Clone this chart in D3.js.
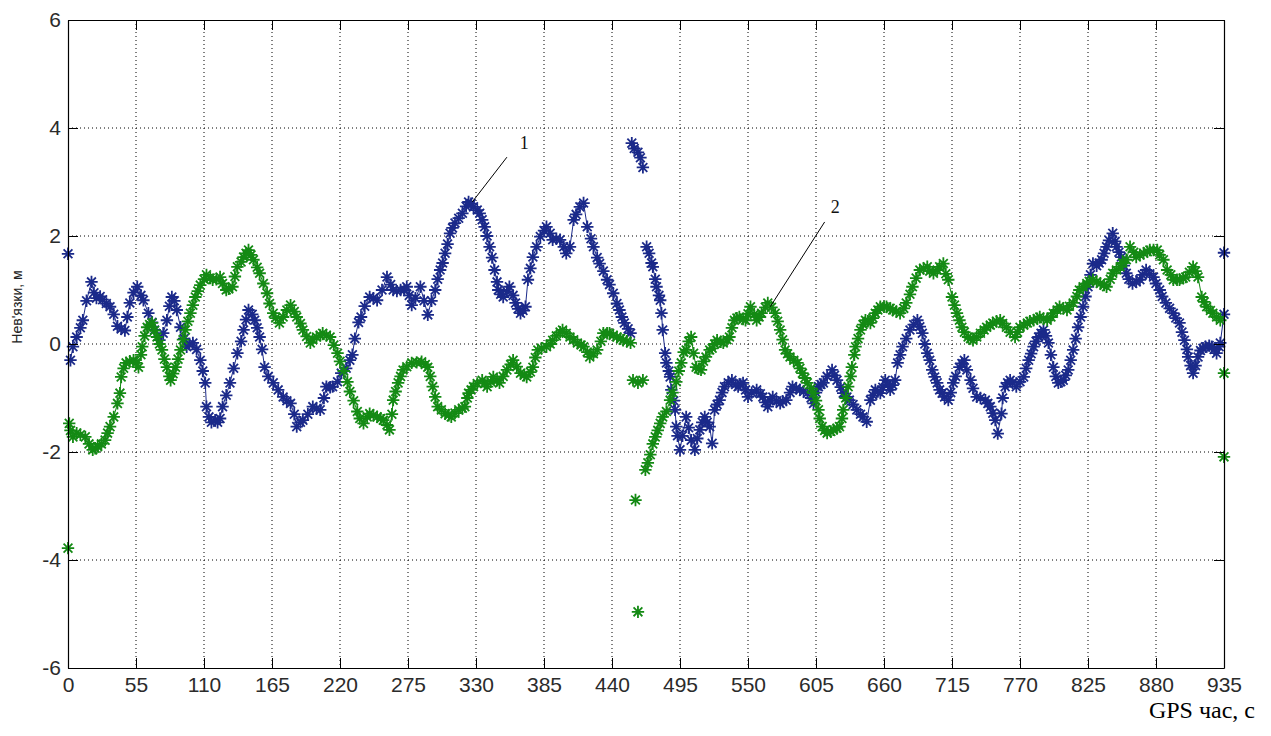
<!DOCTYPE html>
<html>
<head>
<meta charset="utf-8">
<script src="https://cdn.jsdelivr.net/npm/d3@7"></script>
<style>
  body { margin: 0; background: #fff; }
  svg { display: block; }
  .tick text { font-family: "Liberation Sans", Arial, sans-serif; font-size: 21px; fill: #2b2b2b; }
</style>
</head>
<body>
<script>
// x ticks, y ticks
const xTicks = [0, 55, 110, 165, 220, 275, 330, 385, 440, 495, 550, 605, 660, 715, 770, 825, 880, 935];
const yTicks = [-6, -4, -2, 0, 2, 4, 6];

// series 1 (blue) — time, s
const t1 = [0, null,
  2, 4, 7, 10, 12, 15, 19, 21, 23, 26, 28, 31, 34, 37, 40, 43, 46, 48, 50, 53, 56, 59, 61, 65, 68, 70, 74, 77, 80, 82, 84, 86, 88, 91, 94, 96, 98,
  101, 104, 107, 109, 111, 112, 114, 116, 119, 121, 123, 125, 128, 131, 134, 137, 140, 142, 144, 146, 149, 151, 153, 155, 157, 159, 162, 166, 170, 174, 177, 180, 183, 185, 188, 190, 194, 198,
  201, 204, 207, 209, 212, 214, 218, 221, 225, 228, 230, 232, 235, 237, 240, 244, 247, 250, 254, 258, 261, 263, 266, 269, 272, 274, 276, 278, 281, 285, 288, 291, 294, 297, 299,
  301, 303, 305, 307, 309, 311, 313, 316, 319, 322, 324, 326, 328, 331, 333, 335, 337, 339, 341, 343, 345, 347, 348, 350, 352, 355, 357, 360, 362, 364, 366, 368, 370, 372, 374, 376, 379, 382, 385, 387, 390, 392, 395, 398,
  401, 403, 406, 409, 411, 414, 417, 420, 423, 425, 428, 430, 433, 436, 438, 441, 444, 446, 448, 450, 453, 455, null,
  456, 458, 461, 463, 465, null,
  468, 470, 472, 473, 475, 476, 478, 479, 480, 481, 483, 484, 486, 487, 488, 490, 491, 492, 493, 495, 497, 500, 502, 504, 507, 509, 511, 513, 515, 517, 519, 521, 523, 525, 527, 529, 531, 534, 537, 540, 542, 544, 546, 548, 550, 553, 557, 560, 562, 564, 566, 568, 570, 573, 576, 578, 581, 584, 586, 589, 592, 595, 598,
  601, 603, 605, 607, 609, 611, 614, 618, 620, 622, 625, 627, 630, 632, 635, 638, 641, 643, 646, 649, 651, 653, 655, 657, 659, 661, 663, 665, 667, 669, 671, 673, 675, 678, 681, 684, 687, 689, 691, 693, 695, 697, 699,
  701, 703, 705, 707, 709, 712, 714, 716, 718, 721, 723, 725, 727, 730, 732, 735, 738, 742, 744, 746, 748, 750, 752, 755, 756, 758, 760, 762, 764, 767, 770, 773, 775, 777, 779, 781, 783, 785, 787, 789, 791, 793, 795, 797, 799,
  801, 803, 805, 807, 809, 811, 813, 815, 817, 819, 821, 823, 825, 827, 829, 832, 834, 836, 838, 840, 842, 845, 847, 848, 850, 852, 854, 856, 858, 861, 864, 867, 869, 872, 875, 878, 880, 883, 885, 888, 891, 894, 896, 899,
  901, 903, 905, 906, 908, 910, 912, 914, 916, 918, 920, 923, 925, 927, 929, 931, 932, 935, null,
  935];
// series 1 (blue) — misclosure, m
const v1 = [1.67, null,
  -0.3, -0.05, 0.13, 0.3, 0.44, 0.8, 1.15, 0.95, 0.85, 0.88, 0.82, 0.75, 0.69, 0.55, 0.33, 0.28, 0.25, 0.5, 0.76, 0.95, 1.06, 0.9, 0.81, 0.57, 0.4, 0.26, 0.07, 0.2, 0.44, 0.7, 0.87, 0.8, 0.63, 0.31, 0.1, -0.05, 0.0,
  0.02, -0.1, -0.3, -0.5, -0.72, -1.16, -1.35, -1.45, -1.41, -1.45, -1.38, -1.16, -0.95, -0.72, -0.45, -0.17, 0.05, 0.26, 0.45, 0.63, 0.55, 0.44, 0.3, 0.13, -0.1, -0.43, -0.6, -0.72, -0.85, -0.98, -1.05, -1.1, -1.3, -1.53, -1.45, -1.41, -1.3, -1.16,
  -1.2, -1.22, -1.0, -0.79, -0.8, -0.79, -0.7, -0.54, -0.45, -0.3, -0.2, 0.1, 0.4, 0.5, 0.7, 0.87, 0.85, 0.81, 1.0, 1.24, 1.1, 1.0, 0.98, 1.0, 1.0, 1.06, 0.9, 0.72, 0.85, 1.06, 0.8, 0.54, 0.8, 1.0, 1.2,
  1.37, 1.5, 1.68, 1.85, 2.05, 2.15, 2.24, 2.33, 2.42, 2.55, 2.63, 2.6, 2.54, 2.48, 2.42, 2.3, 2.17, 2.0, 1.8, 1.6, 1.37, 1.15, 1.0, 0.92, 0.87, 0.97, 1.06, 0.9, 0.76, 0.65, 0.57, 0.62, 0.69, 1.19, 1.4, 1.61, 1.8, 1.99, 2.1, 2.17, 2.05, 1.93, 1.95, 1.93,
  1.8, 1.68, 1.8, 2.3, 2.4, 2.54, 2.61, 2.17, 1.95, 1.8, 1.6, 1.49, 1.35, 1.19, 1.1, 0.94, 0.75, 0.63, 0.5, 0.39, 0.28, 0.2, null,
  3.72, 3.62, 3.55, 3.45, 3.27, null,
  1.8, 1.68, 1.5, 1.43, 1.2, 1.06, 0.9, 0.81, 0.57, 0.26, -0.17, -0.35, -0.5, -0.61, -0.85, -1.05, -1.22, -1.53, -1.7, -1.96, -1.7, -1.35, -1.55, -1.78, -1.96, -1.75, -1.59, -1.45, -1.35, -1.45, -1.53, -1.84, -1.22, -1.12, -1.04, -0.9, -0.79, -0.72, -0.67, -0.75, -0.79, -0.75, -0.72, -0.85, -0.98, -0.9, -0.85, -0.92, -0.98, -1.08, -1.16, -1.05, -0.98, -1.05, -1.1, -1.06, -1.04, -0.9, -0.79, -0.82, -0.85, -0.88, -0.91,
  -1.0, -1.1, -0.9, -0.79, -0.75, -0.72, -0.6, -0.48, -0.58, -0.67, -0.8, -0.91, -0.98, -1.04, -1.12, -1.22, -1.3, -1.35, -1.44, -1.04, -0.95, -0.85, -0.88, -0.91, -0.8, -0.67, -0.75, -0.85, -0.76, -0.67, -0.35, -0.2, -0.05, 0.1, 0.26, 0.36, 0.44, 0.32, 0.2, 0.0, -0.17, -0.3, -0.48,
  -0.61, -0.72, -0.85, -0.91, -0.98, -1.04, -0.9, -0.72, -0.6, -0.43, -0.36, -0.3, -0.48, -0.67, -0.82, -0.98, -1.0, -1.04, -1.1, -1.16, -1.28, -1.41, -1.66, -1.29, -1.0, -0.79, -0.72, -0.67, -0.72, -0.79, -0.7, -0.61, -0.45, -0.3, -0.18, -0.05, 0.05, 0.13, 0.2, 0.26, 0.15, 0.02, -0.2, -0.43, -0.6,
  -0.72, -0.7, -0.67, -0.58, -0.48, -0.3, -0.11, 0.1, 0.31, 0.5, 0.69, 0.88, 1.06, 1.28, 1.49, 1.45, 1.5, 1.56, 1.68, 1.8, 1.92, 2.05, 1.9, 1.8, 1.7, 1.61, 1.45, 1.31, 1.2, 1.12, 1.15, 1.19, 1.28, 1.37, 1.3, 1.24, 1.12, 1.0, 0.88, 0.76, 0.66, 0.57, 0.48, 0.39,
  0.22, 0.07, -0.1, -0.24, -0.4, -0.54, -0.4, -0.24, -0.12, -0.08, -0.05, -0.03, -0.05, -0.1, -0.17, -0.05, 0.02, 0.55, null,
  1.69];

// series 2 (green) — time, s
const t2 = [0, null,
  1, 2, 4, 7, 10, 14, 17, 20, 22, 24, 27, 30, 32, 34, 37, 40, 42, 43, 45, 47, 50, 53, 55, 57, 59, 60, 62, 64, 66, 68, 70, 72, 74, 76, 78, 80, 82, 83, 85, 87, 89, 91, 93, 95, 97, 99,
  101, 103, 105, 107, 110, 112, 115, 117, 120, 123, 125, 128, 130, 133, 135, 137, 140, 142, 144, 146, 148, 150, 153, 155, 158, 161, 163, 166, 168, 171, 174, 177, 180, 183, 185, 188, 190, 193, 196, 198,
  201, 204, 206, 209, 212, 215, 218, 220, 223, 226, 228, 231, 234, 236, 239, 242, 244, 247, 250, 253, 255, 258, 260, 262, 263, 265, 267, 269, 271, 274, 278, 282, 286, 289, 291, 293, 295, 297, 299,
  302, 305, 308, 310, 313, 316, 319, 321, 323, 324, 326, 328, 331, 335, 337, 339, 342, 344, 347, 349, 352, 355, 358, 360, 363, 366, 369, 371, 374, 376, 378, 380, 383, 387, 390, 392, 395, 398,
  400, 403, 406, 409, 412, 415, 417, 420, 422, 425, 428, 431, 433, 436, 438, 441, 444, 447, 449, 452, 455, null,
  457, 461, 465, null,
  459, null,
  461, null,
  467, 469, 471, 473, 475, 477, 479, 481, 484, 487, 489, 492, 494, 496, 498, 500, 502, 504, 506, 508, 510, 512, 514, 516, 519, 521, 523, 525, 528, 530, 533, 535, 537, 539, 541, 543, 546, 548, 550, 552, 555, 557, 559, 561, 564, 566, 569, 572, 574, 576, 578, 580, 582, 584, 587, 590, 592, 594, 596, 598,
  601, 603, 605, 607, 608, 610, 612, 614, 617, 619, 622, 624, 626, 627, 629, 631, 633, 634, 636, 637, 639, 641, 643, 645, 647, 649, 651, 653, 655, 657, 660, 662, 665, 667, 670, 673, 676, 678, 681, 683, 686, 689, 692, 695, 697,
  700, 703, 705, 708, 710, 712, 715, 717, 719, 721, 723, 725, 728, 730, 732, 735, 738, 741, 743, 746, 748, 751, 754, 756, 759, 762, 766, 768, 770, 773, 776, 778, 781, 784, 786, 789, 792, 795, 797,
  800, 802, 805, 808, 810, 813, 816, 818, 821, 824, 826, 829, 832, 835, 838, 840, 843, 845, 848, 851, 853, 856, 859, 862, 864, 867, 870, 873, 875, 878, 881, 883, 886, 889, 892, 894, 897, 899,
  902, 904, 907, 910, 912, 914, 917, 919, 921, 924, 926, 929, 932, null,
  935, null,
  935];
// series 2 (green) — misclosure, m
const v2 = [-3.78, null,
  -1.47, -1.6, -1.72, -1.65, -1.68, -1.72, -1.85, -1.96, -1.93, -1.9, -1.85, -1.78, -1.65, -1.53, -1.35, -1.1, -0.91, -0.61, -0.45, -0.35, -0.32, -0.3, -0.35, -0.43, -0.2, -0.05, 0.15, 0.31, 0.36, 0.39, 0.25, 0.13, 0.0, -0.11, -0.28, -0.43, -0.6, -0.67, -0.55, -0.43, -0.28, -0.11, 0.08, 0.26, 0.42, 0.57,
  0.72, 0.87, 0.98, 1.09, 1.2, 1.28, 1.22, 1.19, 1.2, 1.24, 1.12, 1.0, 1.02, 1.06, 1.25, 1.43, 1.52, 1.61, 1.68, 1.74, 1.65, 1.56, 1.42, 1.31, 1.12, 0.94, 0.75, 0.57, 0.48, 0.39, 0.5, 0.63, 0.72, 0.6, 0.5, 0.38, 0.26, 0.14, 0.02, 0.08,
  0.13, 0.16, 0.2, 0.16, 0.13, -0.02, -0.17, -0.32, -0.5, -0.7, -0.88, -1.05, -1.25, -1.38, -1.47, -1.35, -1.29, -1.32, -1.35, -1.38, -1.41, -1.5, -1.59, -1.3, -1.04, -0.88, -0.72, -0.6, -0.48, -0.42, -0.35, -0.34, -0.33, -0.38, -0.43, -0.6, -0.79, -0.98, -1.16,
  -1.22, -1.29, -1.32, -1.35, -1.28, -1.22, -1.19, -1.16, -1.0, -0.91, -0.85, -0.79, -0.73, -0.67, -0.73, -0.79, -0.7, -0.61, -0.67, -0.72, -0.6, -0.48, -0.38, -0.3, -0.42, -0.54, -0.58, -0.61, -0.52, -0.43, -0.25, -0.11, -0.08, -0.05, 0.0, 0.07, 0.15, 0.22,
  0.26, 0.2, 0.13, 0.08, 0.02, -0.02, -0.05, -0.15, -0.24, -0.18, -0.11, 0.05, 0.2, 0.2, 0.2, 0.16, 0.13, 0.1, 0.07, 0.05, 0.02, null,
  -0.67, -0.72, -0.67, null,
  -2.89, null,
  -4.96, null,
  -2.33, -2.2, -2.05, -1.85, -1.72, -1.6, -1.47, -1.35, -1.25, -1.04, -0.9, -0.7, -0.5, -0.35, -0.15, -0.11, 0.05, 0.13, -0.17, -0.43, -0.46, -0.48, -0.32, -0.24, -0.11, -0.08, 0.0, 0.07, 0.04, 0.02, 0.08, 0.13, 0.3, 0.44, 0.48, 0.5, 0.46, 0.44, 0.56, 0.69, 0.55, 0.44, 0.5, 0.57, 0.68, 0.76, 0.68, 0.57, 0.42, 0.26, 0.08, -0.11, -0.18, -0.24, -0.3, -0.35, -0.45, -0.54, -0.63, -0.72,
  -0.82, -0.91, -1.05, -1.22, -1.38, -1.53, -1.6, -1.65, -1.62, -1.59, -1.56, -1.53, -1.38, -1.22, -1.0, -0.79, -0.6, -0.43, -0.2, -0.05, 0.1, 0.26, 0.36, 0.44, 0.42, 0.39, 0.48, 0.57, 0.63, 0.69, 0.69, 0.69, 0.66, 0.63, 0.6, 0.57, 0.66, 0.76, 0.92, 1.06, 1.22, 1.37, 1.4, 1.43, 1.35,
  1.31, 1.37, 1.43, 1.49, 1.3, 1.19, 0.87, 0.72, 0.57, 0.44, 0.31, 0.22, 0.13, 0.1, 0.07, 0.13, 0.2, 0.26, 0.31, 0.35, 0.39, 0.42, 0.44, 0.38, 0.31, 0.22, 0.13, 0.22, 0.31, 0.35, 0.39, 0.42, 0.44, 0.47, 0.5, 0.47, 0.44, 0.5, 0.57,
  0.63, 0.69, 0.66, 0.63, 0.7, 0.76, 0.88, 1.0, 1.06, 1.12, 1.16, 1.19, 1.15, 1.12, 1.09, 1.06, 1.2, 1.31, 1.37, 1.43, 1.5, 1.56, 1.8, 1.7, 1.61, 1.65, 1.68, 1.71, 1.74, 1.74, 1.74, 1.65, 1.56, 1.37, 1.28, 1.19, 1.19, 1.19,
  1.22, 1.24, 1.33, 1.43, 1.35, 1.24, 0.87, 0.78, 0.69, 0.62, 0.57, 0.5, 0.44, null,
  -0.54, null,
  -2.09];

const seriesColors = ["#1b2a8a", "#148a14"];

// curve labels "1" and "2": [label, line start t, v, line end t, v, text t, v]
const callouts = [
  ["1", 327, 2.63, 355, 3.46, 369, 3.61],
  ["2", 568, 0.69, 612, 2.26, 620.5, 2.43]
];

const width = 1271, height = 736;
const margin = {top: 20, right: 47, bottom: 68, left: 68};
const innerW = width - margin.left - margin.right;
const innerH = height - margin.top - margin.bottom;

const svg = d3.select("body").append("svg")
  .attr("width", width)
  .attr("height", height);

const g = svg.append("g")
  .attr("transform", `translate(${margin.left},${margin.top})`);

const x = d3.scaleLinear().domain([0, 935]).range([0, innerW]);
const y = d3.scaleLinear().domain([-6, 6]).range([innerH, 0]);

// dotted grid
g.append("g").selectAll("line")
  .data(xTicks.slice(1, -1))
  .join("line")
  .attr("x1", d => x(d)).attr("x2", d => x(d))
  .attr("y1", 0).attr("y2", innerH)
  .attr("stroke", "#000").attr("stroke-width", 1)
  .attr("stroke-dasharray", "1,3");
g.append("g").selectAll("line")
  .data(yTicks.slice(1, -1))
  .join("line")
  .attr("x1", 0).attr("x2", innerW)
  .attr("y1", d => y(d)).attr("y2", d => y(d))
  .attr("stroke", "#000").attr("stroke-width", 1)
  .attr("stroke-dasharray", "1,3");

// series
function buildSeries(ts, vs) {
  return ts.map((t, i) => ({t: t, v: vs[i]}));
}
const allSeries = [buildSeries(t1, v1), buildSeries(t2, v2)];

const line = d3.line()
  .defined(d => d.v !== null)
  .x(d => x(d.t))
  .y(d => y(d.v));

const star = (() => {
  const r = 6.2, q = 4.4;
  return `M${-r},0H${r}M0,${-r}V${r}M${-q},${-q}L${q},${q}M${-q},${q}L${q},${-q}`;
})();

allSeries.forEach((data, i) => {
  const sg = g.append("g");
  sg.append("path")
    .datum(data)
    .attr("fill", "none")
    .attr("stroke", seriesColors[i])
    .attr("stroke-width", 1)
    .attr("d", line);
  sg.selectAll("path.pt")
    .data(data.filter(d => d.v !== null))
    .join("path")
    .attr("class", "pt")
    .attr("transform", d => `translate(${x(d.t)},${y(d.v)})`)
    .attr("d", star)
    .attr("fill", "none")
    .attr("stroke", seriesColors[i])
    .attr("stroke-width", 1.8);
});

// axes, MATLAB box with inward ticks
const fmt = d => String(d);
g.append("g")
  .attr("transform", `translate(0,${innerH})`)
  .call(d3.axisBottom(x).tickValues(xTicks).tickSize(-10).tickSizeOuter(0).tickPadding(9).tickFormat(fmt))
  .call(a => a.selectAll("line, path").attr("stroke", "#000"));
g.append("g")
  .call(d3.axisTop(x).tickValues(xTicks).tickSize(-10).tickSizeOuter(0).tickFormat(""))
  .call(a => a.selectAll("line, path").attr("stroke", "#000"));
g.append("g")
  .call(d3.axisLeft(y).tickValues(yTicks).tickSize(-10).tickSizeOuter(0).tickPadding(7).tickFormat(fmt))
  .call(a => a.selectAll("line, path").attr("stroke", "#000"));
g.append("g")
  .attr("transform", `translate(${innerW},0)`)
  .call(d3.axisRight(y).tickValues(yTicks).tickSize(-10).tickSizeOuter(0).tickFormat(""))
  .call(a => a.selectAll("line, path").attr("stroke", "#000"));
g.selectAll(".domain").attr("stroke-width", 1.2);

// curve callouts
callouts.forEach(c => {
  g.append("line")
    .attr("x1", x(c[1])).attr("y1", y(c[2]))
    .attr("x2", x(c[3])).attr("y2", y(c[4]))
    .attr("stroke", "#000").attr("stroke-width", 1);
  g.append("text")
    .attr("x", x(c[5])).attr("y", y(c[6]))
    .attr("text-anchor", "middle")
    .attr("font-family", "'Liberation Serif', 'Times New Roman', serif")
    .attr("font-size", 18)
    .attr("fill", "#111")
    .text(c[0]);
});

// axis titles
svg.append("text")
  .attr("transform", `translate(22,${margin.top + y(0) - 37}) rotate(-90)`)
  .attr("text-anchor", "middle")
  .attr("font-family", "'Liberation Sans', Arial, sans-serif")
  .attr("font-size", 14)
  .attr("fill", "#222")
  .text("Нев'язки, м");

svg.append("text")
  .attr("x", 1255)
  .attr("y", 718)
  .attr("text-anchor", "end")
  .attr("font-family", "'Liberation Serif', 'Times New Roman', serif")
  .attr("font-size", 24)
  .attr("fill", "#000")
  .text("GPS час, с");
</script>
</body>
</html>
